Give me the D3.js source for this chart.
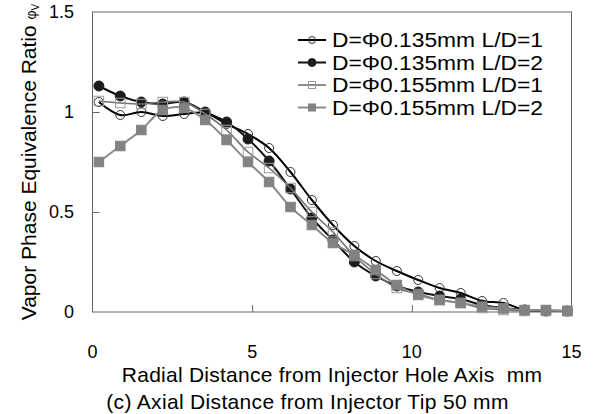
<!DOCTYPE html>
<html><head><meta charset="utf-8">
<script src="https://cdn.jsdelivr.net/npm/d3@7/dist/d3.min.js"></script>
<style>body{margin:0;background:#fff}svg{display:block}text{font-family:"Liberation Sans",Arial,sans-serif;fill:#000}</style>
</head><body><svg id="c" width="594" height="414"></svg>
<script>
const radialDistance = [0.2,0.87,1.53,2.2,2.87,3.53,4.2,4.87,5.53,6.2,6.87,7.53,8.2,8.87,9.53,10.2,10.87,11.53,12.2,12.87,13.53,14.2,14.87];
const seriesNames = ["D=Φ0.135mm L/D=1","D=Φ0.135mm L/D=2","D=Φ0.155mm L/D=1","D=Φ0.155mm L/D=2"];
const d135L1 = [1.05,0.985,1.0,0.98,0.99,0.995,0.94,0.89,0.82,0.70,0.56,0.435,0.33,0.255,0.205,0.16,0.12,0.095,0.055,0.045,0.01,0.005,0.005];
const d135L2 = [1.13,1.08,1.05,1.04,1.05,1.0,0.95,0.865,0.755,0.615,0.47,0.36,0.25,0.18,0.13,0.10,0.08,0.065,0.035,0.02,0.01,0.005,0.005];
const d155L1 = [1.055,1.045,1.04,1.05,1.05,0.99,0.91,0.80,0.72,0.62,0.50,0.40,0.28,0.19,0.12,0.09,0.06,0.045,0.02,0.01,0.005,0.005,0.005];
const d155L2 = [0.75,0.83,0.91,1.01,1.02,0.96,0.86,0.75,0.65,0.525,0.435,0.345,0.285,0.21,0.135,0.085,0.06,0.045,0.027,0.018,0.01,0.01,0.005];
const xTicks = [0,5,10,15];
const yTicks = [0,0.5,1,1.5];
const yTickLabels = ["0","0.5","1","1.5"];

const svg = d3.select("#c");
const L=92.5,R=571.5,T=12,B=312;
const x = d3.scaleLinear().domain([0,15]).range([L,R]);
const y = d3.scaleLinear().domain([0,1.5]).range([B,T]);

// frame
svg.append("rect").attr("x",L).attr("y",T).attr("width",R-L).attr("height",B-T)
  .attr("fill","none").attr("stroke","#666").attr("stroke-width",1);

// inside ticks
const yAx = svg.append("g").attr("transform",`translate(${L},0)`)
  .call(d3.axisRight(y).tickValues([0.5,1]).tickSize(7).tickFormat(""));
yAx.select(".domain").remove();
yAx.selectAll("line").attr("stroke","#666");
const xAx = svg.append("g").attr("transform",`translate(0,${B})`)
  .call(d3.axisTop(x).tickValues([5,10]).tickSize(7).tickFormat(""));
xAx.select(".domain").remove();
xAx.selectAll("line").attr("stroke","#666");

// tick labels
svg.append("g").selectAll("text").data(yTicks).join("text")
  .attr("x",74).attr("y",d=>y(d)).attr("dy","0.36em").attr("text-anchor","end")
  .attr("font-size",18).text((d,i)=>yTickLabels[i]);
svg.append("g").selectAll("text").data(xTicks).join("text")
  .attr("x",d=>x(d)).attr("y",358).attr("text-anchor","middle")
  .attr("font-size",18).text(d=>d);

// axis titles
svg.append("text").attr("x",(L+R)/2).attr("y",382).attr("text-anchor","middle")
  .attr("font-size",21).attr("letter-spacing",0.25).style("white-space","pre")
  .text("Radial Distance from Injector Hole Axis\u00a0 mm");
svg.append("text").attr("x",307.5).attr("y",409).attr("text-anchor","middle")
  .attr("font-size",21).attr("letter-spacing",0.33)
  .text("(c) Axial Distance from Injector Tip 50 mm");
const yt = svg.append("text").attr("transform","translate(36,162) rotate(-90)")
  .attr("text-anchor","middle").attr("font-size",21);
yt.append("tspan").text("Vapor Phase Equivalence Ratio ");
yt.append("tspan").attr("font-size",14).text("φ");
yt.append("tspan").attr("font-size",10).attr("dy",3).text("V");

const series = [
  {vals:d135L1, line:"#000", lw:2, marker:"circle", fill:"none", stroke:"#333", sw:1},
  {vals:d135L2, line:"#111", lw:2, marker:"circle", fill:"#1c1c1c", stroke:"#1c1c1c", sw:1},
  {vals:d155L1, line:"#707070", lw:1.6, marker:"square", fill:"none", stroke:"#9a9a9a", sw:1},
  {vals:d155L2, line:"#8a8a8a", lw:2, marker:"square", fill:"#828282", stroke:"#828282", sw:1}
];
const line = d3.line().x(d=>x(d[0])).y(d=>y(d[1])).curve(d3.curveCatmullRom.alpha(0.5));

function drawMarker(g, s, cx, cy, size){
  if(s.marker==="circle"){
    g.append("circle").attr("cx",cx).attr("cy",cy).attr("r",size/2)
      .attr("fill",s.fill).attr("stroke",s.stroke).attr("stroke-width",s.sw);
  } else {
    g.append("rect").attr("x",cx-size/2).attr("y",cy-size/2).attr("width",size).attr("height",size)
      .attr("fill",s.fill).attr("stroke",s.stroke).attr("stroke-width",s.sw);
  }
}

series.forEach(s=>{
  const pts = radialDistance.map((r,i)=>[r,s.vals[i]]);
  const g = svg.append("g");
  g.append("path").attr("d",line(pts)).attr("fill","none").attr("stroke",s.line).attr("stroke-width",s.lw);
  pts.forEach(p=>drawMarker(g,s,x(p[0]),y(p[1]), s.marker==="circle"? (s.fill==="none"?9:10):9.5));
});

// legend
const legY = [40,62.5,85,107.5];
series.forEach((s,i)=>{
  const g = svg.append("g");
  g.append("line").attr("x1",298).attr("x2",326).attr("y1",legY[i]).attr("y2",legY[i])
    .attr("stroke",s.line).attr("stroke-width",s.lw);
  drawMarker(g,s,312,legY[i], s.marker==="circle"?(s.fill==="none"?7:8):7);
  g.append("text").attr("x",332).attr("y",legY[i]).attr("dy","0.36em")
    .attr("font-size",20).attr("textLength",211).attr("lengthAdjust","spacingAndGlyphs")
    .text(seriesNames[i]);
});
</script></body></html>
